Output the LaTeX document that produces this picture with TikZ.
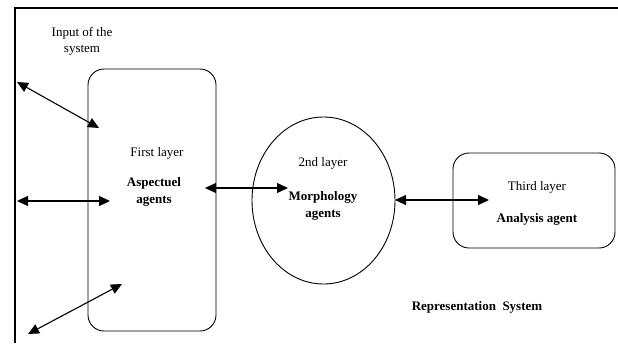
\documentclass[tikz,border=0pt]{standalone}
\usepackage{fontspec}
\setmainfont{Liberation Serif}
\usetikzlibrary{arrows.meta,shapes.geometric}

\tikzset{
  layerbox/.style={draw,rounded corners=16pt,line width=0.9pt},
  link/.style={{Triangle[length=11pt,width=10pt]}-{Triangle[length=11pt,width=10pt]},line width=1.1pt},
  lbl/.style={font=\fontsize{13}{16}\selectfont,align=center,inner sep=0pt},
  blbl/.style={lbl,font=\fontsize{13}{17}\selectfont\bfseries}
}

\begin{document}
\begin{tikzpicture}[x=1pt,y=-1pt]
        \useasboundingbox (0,0) rectangle (618,343);

        % Frame (top and left edges)
        \draw[line width=2pt] (15,343) -- (15,8) -- (618,8);

        % The three layers
        \node[layerbox,minimum width=128pt,minimum height=262pt] (layer1) at (152,200) {};
        \node[draw,ellipse,line width=0.9pt,minimum width=143pt,minimum height=167pt] (layer2) at (323.5,200.5) {};
        \node[layerbox,minimum width=162pt,minimum height=95pt] (layer3) at (534,200.5) {};

        % Texts
        \node[lbl] (input) at (82,41) {Input of the\\system};
        \node[lbl] (first) at (157,153) {First layer};
        \node[blbl] (aspect) at (154,192) {Aspectuel\\agents};
        \node[lbl] (second) at (323,163) {2nd layer};
        \node[blbl] (morph) at (323,206) {Morphology\\agents};
        \node[lbl] (third) at (537,187) {Third layer};
        \node[blbl] (analysis) at (537,219) {Analysis agent};
        \node[blbl] (repsys) at (477,307) {Representation\ \ System};

        % End points of the arrows
        \coordinate (in1) at (17,82);
        \coordinate (in1b) at (99,128);
        \coordinate (in2) at (17,201);
        \coordinate (in2b) at (110,201);
        \coordinate (in3) at (28,334);
        \coordinate (in3b) at (122,284);
        \coordinate (m1) at (205,188);
        \coordinate (m2) at (288,188);
        \coordinate (r1) at (395,200);
        \coordinate (r2) at (489,200);

        % Arrows
        \draw[link] (in1) -- (in1b);
        \draw[link] (in2) -- (in2b);
        \draw[link] (in3) -- (in3b);
        \draw[link] (m1) -- (m2);
        \draw[link] (r1) -- (r2);
\end{tikzpicture}
\end{document}
